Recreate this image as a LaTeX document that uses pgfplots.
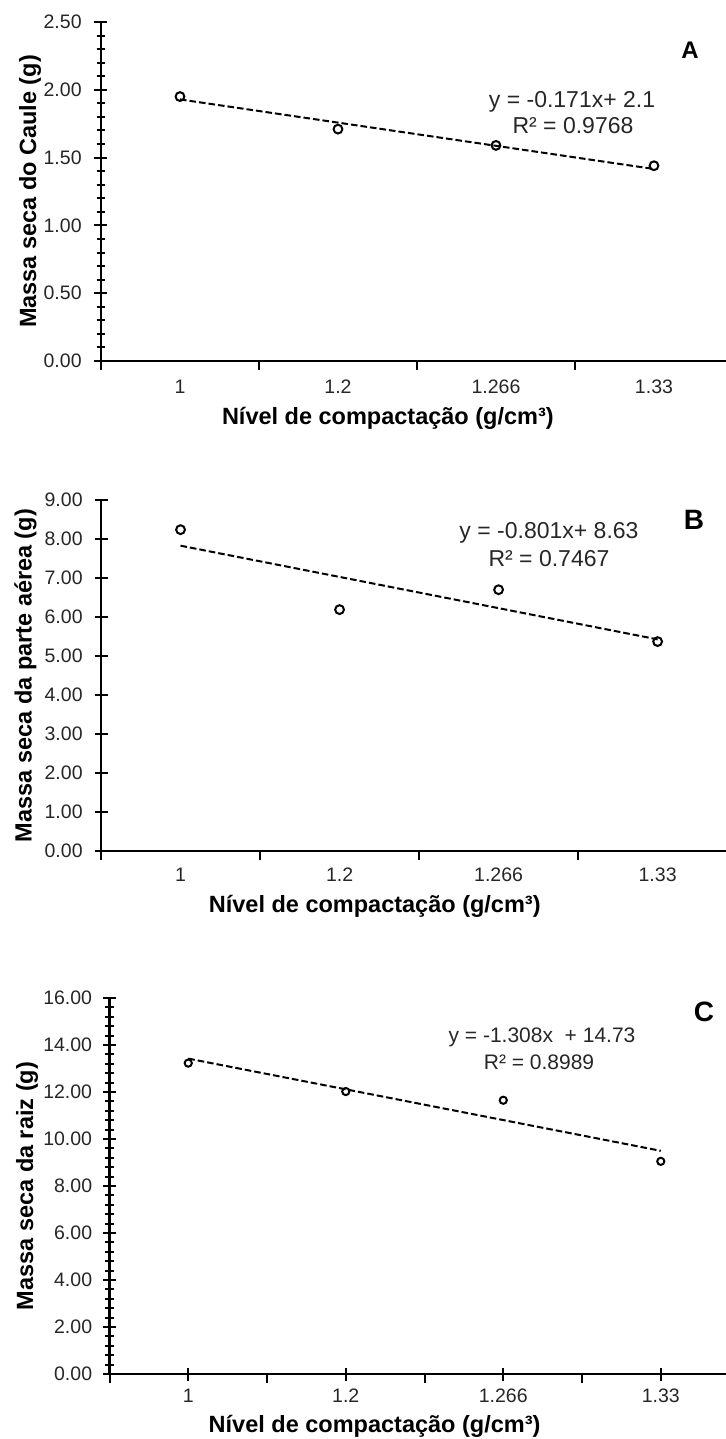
\documentclass[border=0pt]{standalone}
\usepackage{fontspec}
\setmainfont{Liberation Sans}
\usepackage{pgfplots}
\pgfplotsset{compat=1.18}

% dados (x = 1..4 -> 1, 1.2, 1.266, 1.33)
\pgfplotsset{
  painel/.style={
    scale only axis,
    axis x line*=bottom, axis y line*=left,
    axis line style={line width=1.3pt, black},
    xmin=0.5, ymin=0,
    xtick={1,2,3,4},
    xticklabels={1,1.2,1.266,1.33},
    minor xtick={0.5,1.5,2.5,3.5,4.5},
    tick align=center,
    major tick length=6.5pt, minor tick length=4.25pt,
    every tick/.style={black, line width=1pt},
    minor x tick style={yshift=-2.125pt},
    major x tick style=transparent,
    /pgf/number format/assume math mode=true,
    /pgf/number format/fixed, /pgf/number format/fixed zerofill,
    /pgf/number format/precision=2,
    tick label style={font=\fontsize{9.75}{12}\selectfont, text=black!85},
    xticklabel style={anchor=center},
    yticklabel style={anchor=east, inner sep=0pt},
    label style={font=\fontsize{11.75}{13}\selectfont\bfseries},
    clip=false,
  },
  tend/.style={black, line width=1pt, dash pattern=on 3.3pt off 1.5pt},
  pts/.style={only marks, mark=o, mark size=2.2pt, mark options={black, line width=1pt, solid}},
}

\begin{document}
\begin{tikzpicture}
\path[use as bounding box] (0,0) rectangle (363pt,-719.5pt);

% A
\begin{axis}[painel,
  at={(50.5pt,-180.5pt)}, anchor=south west,
  width=312.5pt, height=169.5pt,
  xmax=4.456, ymax=2.5,
  ytick={0,0.5,...,2.5}, minor y tick num=4,
  xticklabel style={yshift=-9.6pt},
  yticklabel style={xshift=-6.25pt},
  xlabel={Nível de compactação (g/cm³)},
  ylabel={Massa seca do Caule (g)},
  xlabel style={at={(axis description cs:0.459,-0.168)}, anchor=center},
  ylabel style={at={(axis description cs:-0.1136,0.5)}, anchor=center},
]
\addplot[tend] coordinates {(1,1.929) (4,1.416)};
\addplot[pts] coordinates {(1,1.95) (2,1.71) (3,1.59) (4,1.44)};
\end{axis}

% B
\begin{axis}[painel,
  at={(50.5pt,-425.5pt)}, anchor=south west,
  width=312.5pt, height=175.5pt,
  xmax=4.43, ymax=9,
  ytick={0,1,...,9},
  xticklabel style={yshift=-8.75pt},
  yticklabel style={xshift=-5.75pt},
  xlabel={Nível de compactação (g/cm³)},
  ylabel={Massa seca da parte aérea (g)},
  xlabel style={at={(axis description cs:0.438,-0.157)}, anchor=center},
  ylabel style={at={(axis description cs:-0.1208,0.5)}, anchor=center},
]
\addplot[tend] coordinates {(1,7.829) (4,5.426)};
\addplot[pts] coordinates {(1,8.24) (2,6.19) (3,6.70) (4,5.37)};
\end{axis}

% C
\begin{axis}[painel,
  at={(54.75pt,-687pt)}, anchor=south west,
  width=308.25pt, height=188pt,
  xmax=4.414, ymax=16,
  ytick={0,2,...,16}, minor y tick num=4,
  major x tick style={black, opacity=1},
  xticklabel style={yshift=-7.75pt},
  yticklabel style={xshift=-5.25pt},
  xlabel={Nível de compactação (g/cm³)},
  ylabel={Massa seca da raiz (g)},
  xlabel style={at={(axis description cs:0.430,-0.138)}, anchor=center},
  ylabel style={at={(axis description cs:-0.1338,0.5)}, anchor=center},
]
\addplot[tend] coordinates {(1,13.422) (4,9.498)};
\addplot[pts, mark size=1.8pt] coordinates {(1,13.23) (2,12.02) (3,11.65) (4,9.05)};
\end{axis}

% equacoes e letras dos paineis
\begin{scope}[every node/.style={text=black!85, font=\fontsize{11.5}{13}\selectfont}]
\node at (286pt,-51pt) {y = -0.171x+ 2.1};
\node at (286.5pt,-63pt) {R² = 0.9768};
\node at (274.5pt,-266.5pt) {y = -0.801x+ 8.63};
\node at (274.5pt,-279.5pt) {R² = 0.7467};
\node[font=\fontsize{10.5}{12}\selectfont] at (271pt,-518.5pt) {y = -1.308x\ \ + 14.73};
\node[font=\fontsize{10.5}{12}\selectfont] at (269.5pt,-531pt) {R² = 0.8989};
\end{scope}
\node[font=\fontsize{12}{14}\selectfont\bfseries] at (345pt,-25pt) {A};
\node[font=\fontsize{14}{16}\selectfont\bfseries] at (347pt,-260pt) {B};
\node[font=\fontsize{14}{16}\selectfont\bfseries] at (352pt,-506pt) {C};
\end{tikzpicture}
\end{document}
